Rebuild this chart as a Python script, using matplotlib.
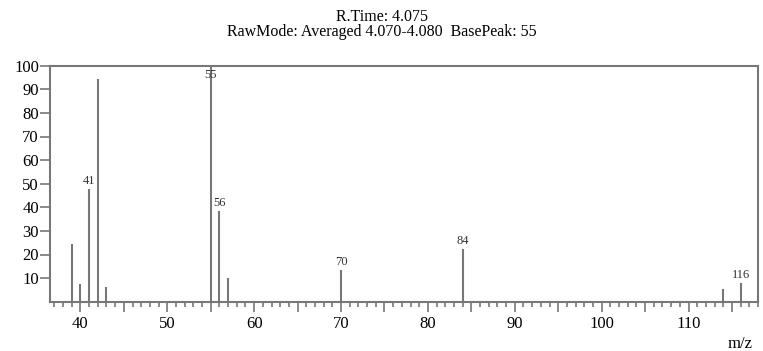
import matplotlib
matplotlib.use("Agg")
import matplotlib.pyplot as plt
from matplotlib.ticker import MultipleLocator, FuncFormatter

mz = [39, 40, 41, 42, 43, 55, 56, 57, 70, 84, 114, 116]
intensity = [24.3, 7.4, 47.6, 94.2, 6.4, 100.0, 38.4, 10.2, 13.4, 22.3, 5.2, 7.8]
labeled = [41, 55, 56, 70, 84, 116]
yticks = [10, 20, 30, 40, 50, 60, 70, 80, 90, 100]

plt.rcParams['font.family'] = ['Liberation Serif', 'DejaVu Serif']
gray = '#777777'

fig = plt.figure(figsize=(7.63, 3.51), dpi=100)
ax = fig.add_axes([50/763, 1 - 301.7/351, (758-50)/763, (301.7-65.7)/351])
ax.vlines(mz, 0, intensity, color=gray, linewidth=1.5)
for m, v in zip(mz, intensity):
    if m in labeled:
        if v >= 99:
            ax.text(m, v - 1.5, str(m), ha='center', va='top', fontsize=9, color='#333333')
        else:
            ax.text(m, v + 1.0, str(m), ha='center', va='bottom', fontsize=9, color='#333333')

ax.set_xlim(36.5, 118)
ax.set_ylim(0, 100)
ax.set_yticks(yticks)
ax.xaxis.set_major_locator(MultipleLocator(5))
ax.xaxis.set_major_formatter(FuncFormatter(lambda v, p: f"{int(round(v))}" if round(v) % 10 == 0 else ""))
ax.xaxis.set_minor_locator(MultipleLocator(1))
for s in ax.spines.values():
    s.set_color(gray)
    s.set_linewidth(1.5)
ax.tick_params(axis='y', direction='out', length=7, width=1.2, color=gray, labelsize=12, pad=1)
ax.tick_params(axis='x', which='major', direction='out', length=7, width=1.2, color=gray, labelsize=12, pad=3)
ax.tick_params(axis='x', which='minor', direction='out', length=3.5, width=1.2, color=gray)

fig.text(0.5, 1 - 17/351, 'R.Time: 4.075', ha='center', va='center', fontsize=11.5)
fig.text(0.5, 1 - 32/351, 'RawMode: Averaged 4.070-4.080  BasePeak: 55', ha='center', va='center', fontsize=11.5)
fig.text(740/763, 1 - 344/351, 'm/z', ha='center', va='center', fontsize=12)

fig.savefig('out.png', dpi=100)
